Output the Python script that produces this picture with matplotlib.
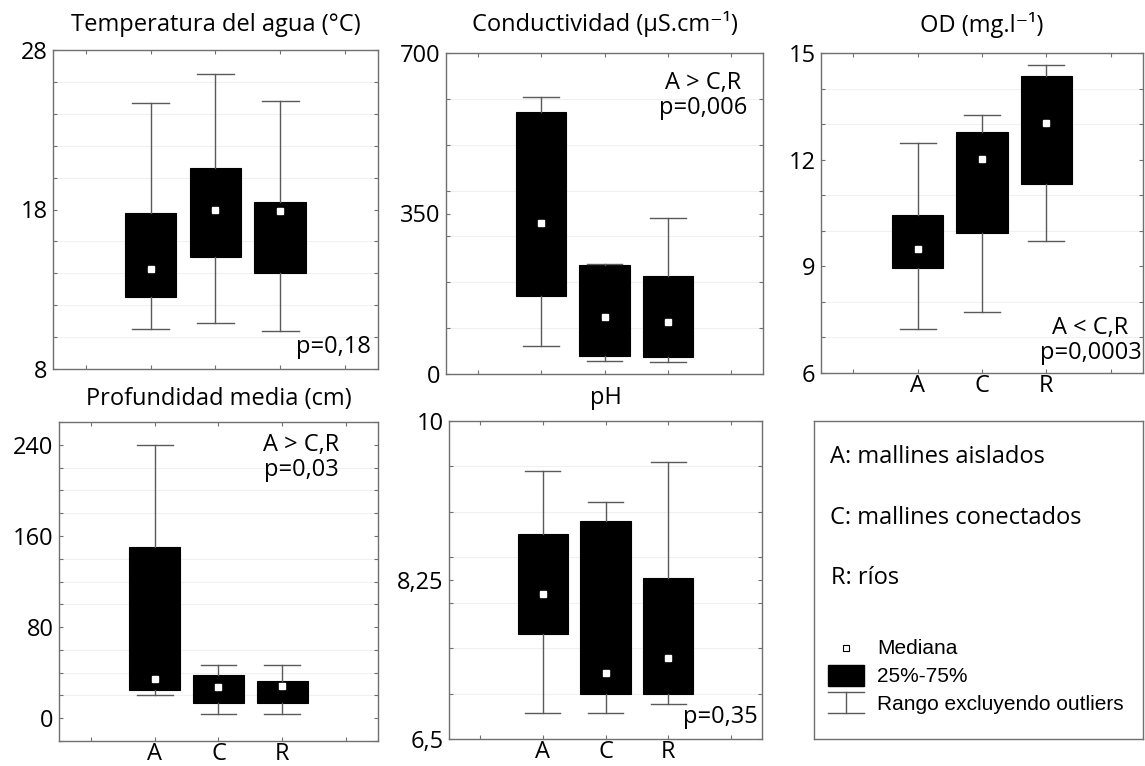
import matplotlib
matplotlib.use("Agg")
import matplotlib.pyplot as plt
from matplotlib.patches import Rectangle
from matplotlib.lines import Line2D

plt.rcParams["font.family"] = ["Open Sans", "DejaVu Sans"]

W, H = 1145, 766
groups = ["A", "C", "R"]

# values: (whisker low, q1, median, q3, whisker high)
temp_lo = [10.5, 10.9, 10.4]
temp_q1 = [12.5, 15.0, 14.0]
temp_med = [14.3, 18.0, 17.9]
temp_q3 = [17.8, 20.6, 18.5]
temp_hi = [24.7, 26.5, 24.8]

cond_lo = [61, 28, 26]
cond_q1 = [170, 40, 36]
cond_med = [330, 124, 113]
cond_q3 = [572, 238, 214]
cond_hi = [605, 240, 341]

od_lo = [7.24, 7.71, 9.70]
od_q1 = [8.95, 9.94, 11.31]
od_med = [9.48, 12.02, 13.02]
od_q3 = [10.43, 12.77, 14.36]
od_hi = [12.48, 13.27, 14.67]

prof_lo = [20, 3.5, 3.5]
prof_q1 = [24.4, 13.5, 13]
prof_med = [34, 27, 28]
prof_q3 = [150.5, 38, 33]
prof_hi = [239.4, 47, 47]

ph_lo = [6.79, 6.79, 6.89]
ph_q1 = [7.66, 7.0, 7.0]
ph_med = [8.10, 7.23, 7.39]
ph_q3 = [8.76, 8.90, 8.27]
ph_hi = [9.45, 9.11, 9.55]


def px_rect(x0, y0, x1, y1):
    return [x0 / W, 1 - y1 / H, (x1 - x0) / W, (y1 - y0) / H]


fig = plt.figure(figsize=(W / 100, H / 100), dpi=100)

FS = 17

panels = [
    # title, data, ylim, major ticks, minor step, tick labels, rect, xlabels, note, note pos, title pad
    ("Temperatura del agua (°C)",
     (temp_lo, temp_q1, temp_med, temp_q3, temp_hi),
     (8, 28), [8, 18, 28], 2, ["8", "18", "28"],
     px_rect(53, 50, 378, 369), False, "p=0,18", ("br", 0.978, 0.03), 14),
    ("Conductividad (µS.cm⁻¹)",
     (cond_lo, cond_q1, cond_med, cond_q3, cond_hi),
     (0, 700), [0, 350, 700], 100, ["0", "350", "700"],
     px_rect(446, 53, 763, 374), False, "A > C,R\np=0,006", ("tr", 0.81, 0.945), 16),
    ("OD (mg.l⁻¹)",
     (od_lo, od_q1, od_med, od_q3, od_hi),
     (6, 15), [6, 9, 12, 15], 1, ["6", "9", "12", "15"],
     px_rect(821, 53, 1143, 373), True, "A < C,R\np=0,0003", ("br", 0.995, 0.025), 15),
    ("Profundidad media (cm)",
     (prof_lo, prof_q1, prof_med, prof_q3, prof_hi),
     (-20, 260), [0, 80, 160, 240], 20, ["0", "80", "160", "240"],
     px_rect(59, 422, 378, 741), True, "A > C,R\np=0,03", ("tr", 0.76, 0.965), 12),
    ("pH",
     (ph_lo, ph_q1, ph_med, ph_q3, ph_hi),
     (6.5, 10), [6.5, 8.25, 10], 0.5, ["6,5", "8,25", "10"],
     px_rect(449, 421, 762, 739), True, "p=0,35", ("br", 0.985, 0.03), 12),
]

spine_col = "#707070"
line_col = "#5a5a5a"

for title, data, ylim, majors, mstep, mlabels, rect, show_x, note, npos, tpad in panels:
    ax = fig.add_axes(rect)
    lo, q1, med, q3, hi = data
    stats = []
    for i, g in enumerate(groups):
        stats.append(dict(label=g, whislo=lo[i], q1=q1[i], med=med[i],
                          q3=q3[i], whishi=hi[i], fliers=[]))
    ax.bxp(stats, positions=[1, 2, 3], widths=0.8, capwidths=0.56,
           patch_artist=True, showfliers=False,
           boxprops=dict(facecolor="black", edgecolor="black", linewidth=0.8),
           whiskerprops=dict(color=line_col, linewidth=1.0),
           capprops=dict(color=line_col, linewidth=1.0),
           medianprops=dict(linestyle="none"))
    ax.plot([1, 2, 3], med, "s", color="white", markersize=3.8, zorder=5)

    ax.set_xlim(-0.5, 4.5)
    ax.set_ylim(*ylim)
    ax.set_xticks([0, 1, 2, 3, 4])
    ax.set_xticklabels(["", "A", "C", "R", ""] if show_x else [""] * 5)
    ax.set_yticks(majors)
    ax.set_yticklabels(mlabels)
    n = int(round((ylim[1] - ylim[0]) / mstep))
    minors = [ylim[0] + k * mstep for k in range(n + 1)]
    ax.set_yticks(minors, minor=True)
    ax.grid(axis="y", which="minor", color="#f0f0f0", linewidth=0.8)
    ax.set_axisbelow(True)
    ax.tick_params(which="both", direction="in", top=True, right=True,
                   length=3, width=0.8, color=spine_col, labelsize=FS, pad=4)
    ax.tick_params(axis="x", labelsize=FS, pad=1)
    for s in ax.spines.values():
        s.set_color(spine_col)
        s.set_linewidth(1.0)
    ax.set_title(title, fontsize=FS, pad=tpad)

    kind, nx, ny = npos
    if kind == "br":
        ax.text(nx, ny, note, transform=ax.transAxes, ha="right",
                va="bottom", fontsize=FS, multialignment="center",
                linespacing=1.05)
    else:
        ax.text(nx, ny, note, transform=ax.transAxes, ha="center",
                va="top", fontsize=FS, linespacing=1.05)

# legend panel
lg = fig.add_axes(px_rect(814, 421, 1143, 739))
lg.set_xlim(814, 1143)
lg.set_ylim(739, 421)
lg.set_xticks([])
lg.set_yticks([])
for s in lg.spines.values():
    s.set_color(spine_col)
    s.set_linewidth(1.0)

lg.text(830, 457, "A: mallines aislados", fontsize=FS, va="center")
lg.text(830, 518, "C: mallines conectados", fontsize=FS, va="center")
lg.text(831, 578, "R: ríos", fontsize=FS, va="center")

lg.add_patch(Rectangle((843, 645), 6, 6, facecolor="white",
                       edgecolor="black", linewidth=0.8))
lg.add_patch(Rectangle((828, 665), 36, 21, facecolor="black",
                       edgecolor="black"))
lg.add_line(Line2D([828, 864], [692, 692], color=line_col, linewidth=1.0))
lg.add_line(Line2D([828, 864], [713, 713], color=line_col, linewidth=1.0))
lg.add_line(Line2D([846, 846], [692, 713], color=line_col, linewidth=1.0))

narrow = ["Liberation Sans Narrow", "Liberation Sans", "DejaVu Sans"]
lg.text(877, 648, "Mediana", fontsize=15, va="center", family=narrow)
lg.text(877, 677, "25%-75%", fontsize=15, va="center", family=narrow)
lg.text(877, 704, "Rango excluyendo outliers", fontsize=15, va="center",
        family=narrow)

fig.savefig("out.png", dpi=100, facecolor="white")
